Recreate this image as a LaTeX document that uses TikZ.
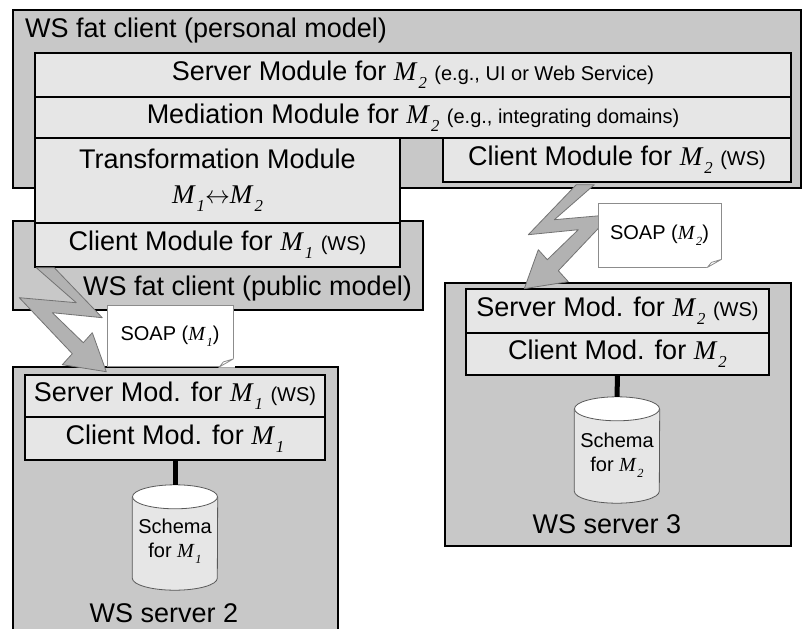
\documentclass[tikz,border=0pt]{standalone}
\usepackage{fontspec}
\setmainfont{Liberation Sans}
\newfontfamily\serifM{Liberation Serif}
\usetikzlibrary{calc}

\definecolor{boxgray}{RGB}{200,200,200}
\definecolor{rowgray}{RGB}{230,230,230}
\definecolor{boltgray}{RGB}{178,178,178}
\definecolor{boltline}{RGB}{115,115,115}
\definecolor{notegray}{RGB}{140,140,140}

\newcommand\Msub[1]{{\serifM\itshape M}\kern0.08em\raisebox{-0.55ex}{\serifM\itshape\scalebox{0.62}{#1}}}
\newcommand\bigfont{\fontsize{27}{33}\selectfont}
\newcommand\smallfont{\fontsize{20}{24}\selectfont}

% cylinder drawn round an empty node
\newcommand\dbshape[1]{%
  \draw[dbline] ($(#1.north west)+(0,12)$) -- ($(#1.south west)+(0,-12)$)
    arc[start angle=180,end angle=0,x radius=42.5,y radius=12]
    -- ($(#1.north east)+(0,12)$);
  \draw[dbline,fill=white] ($(#1.north)+(0,12)$) ellipse[x radius=42.5,y radius=12];
}
% dog-ear of a note
\newcommand\notefold[1]{%
  \fill[white] ($(#1.south east)+(1.5,-9)$) -- ($(#1.south east)+(1.5,0.6)$)
    -- ($(#1.south east)+(-15,0.6)$) -- cycle;
  \draw[notegray,line width=0.8pt,line join=round]
    ($(#1.south east)+(0,-8)$) -- ($(#1.south east)+(-14,0)$)
    -- ($(#1.south east)+(-10,-5)$) -- cycle;
}

\tikzset{
  machine/.style={draw=black,fill=boxgray,line width=1.5pt,inner sep=0pt},
  module/.style={draw=black,fill=rowgray,line width=1.4pt,inner sep=0pt,font=\bigfont,align=center},
  caption/.style={inner sep=0pt,font=\bigfont},
  note/.style={draw=notegray,fill=white,line width=0.8pt,inner sep=0pt,font=\smallfont},
  dbbody/.style={inner sep=0pt,minimum width=85pt},
  dbline/.style={draw=black!65,fill=rowgray,line width=0.8pt},
  dbtext/.style={inner sep=0pt,align=center,font=\smallfont},
  link/.style={line width=5pt,draw=black},
  bolt/.pic={
    \filldraw[fill=boltgray,draw=boltline,line width=0.8pt,line join=round]
      (-9,0) -- (9,0) -- (57,50) -- (7,45) -- (38,75) -- (47,65) -- (61,104)
      -- (17,97) -- (27,86) -- (-26,30) -- (31,35) -- cycle;
  }
}

\begin{document}
\begin{tikzpicture}[x=1pt,y=-1pt]
  \useasboundingbox (0,0) rectangle (803,629);
  \clip (0,0) rectangle (803,629);

  % fat clients
  \node[machine,minimum width=788,minimum height=178] (personal) at (407,99) {};
  \node[caption,anchor=base west] (personalcap) at (25,37) {WS fat client (personal model)};
  \node[machine,minimum width=410,minimum height=89] (public) at (218,265.5) {};
  \node[caption,anchor=base east] (publiccap) at (412,295) {WS fat client (public model)};

  \node[module,minimum width=756,minimum height=44] (srvM2) at (413,75)
    {Server Module for \Msub{2} {\smallfont(e.g., UI or Web Service)}};
  \node[module,minimum width=756,minimum height=41] (medM2) at (413,117.5)
    {Mediation Module for \Msub{2} {\smallfont(e.g., integrating domains)}};
  \node[module,minimum width=365,minimum height=85] (trans) at (217.5,180.5)
    {Transformation Module\\[2pt]\Msub{1}$\leftrightarrow$\Msub{2}};
  \node[module,minimum width=365,minimum height=44] (cliM1) at (217.5,245)
    {Client Module for \Msub{1} {\smallfont(WS)}};
  \node[module,minimum width=348,minimum height=44] (cliM2) at (617,160)
    {Client Module for \Msub{2} {\smallfont(WS)}};

  % WS server 2
  \node[machine,minimum width=325,minimum height=272] (srv2) at (175.5,503) {};
  \node[module,minimum width=300,minimum height=42] (smodM1) at (175,396)
    {Server Mod. for \Msub{1} {\smallfont(WS)}};
  \node[module,minimum width=300,minimum height=43] (cmodM1) at (175,438.5)
    {Client Mod. for \Msub{1}};
  \node[dbbody,minimum height=105] (db1) at (175,537.5) {};
  \dbshape{db1}
  \node[dbtext] (db1txt) at ([yshift=-4pt]db1.center) {Schema\\for \Msub{1}};
  \draw[link] (cmodM1.south) -- (db1.north);
  \node[caption,anchor=base] (srv2cap) at (164,622) {WS server 2};

  % WS server 3
  \node[machine,minimum width=346,minimum height=263] (srv3) at (618,414.5) {};
  \node[module,minimum width=303,minimum height=44] (smodM2) at (617.5,311)
    {Server Mod. for \Msub{2} {\smallfont(WS)}};
  \node[module,minimum width=303,minimum height=42] (cmodM2) at (617.5,354)
    {Client Mod. for \Msub{2}};
  \node[dbbody,minimum height=106] (db2) at (617,450) {};
  \dbshape{db2}
  \node[dbtext] (db2txt) at ([yshift=-5pt]db2.center) {Schema\\for \Msub{2}};
  \draw[link] (cmodM2.south) -- (db2.north);
  \node[caption,anchor=base] (srv3cap) at (607,533) {WS server 3};

  % SOAP calls
  \pic at ($(cliM1.south west)+(11,0)$) {bolt};
  \pic[xscale=-1] at ($(cliM2.south west)+(143,2)$) {bolt};
  \node[note,minimum width=126,minimum height=61] (soap1) at (170,336) {SOAP (\Msub{1})};
  \notefold{soap1}
  \node[note,minimum width=123,minimum height=64] (soap2) at (659.5,235) {SOAP (\Msub{2})};
  \notefold{soap2}
\end{tikzpicture}
\end{document}
